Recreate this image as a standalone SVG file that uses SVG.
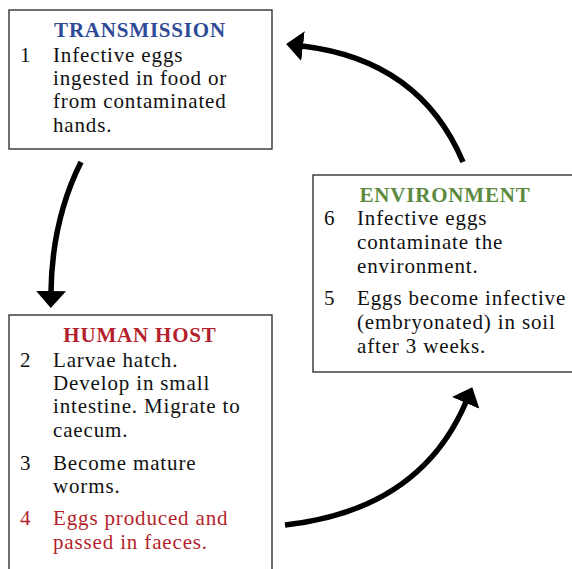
<svg xmlns="http://www.w3.org/2000/svg" width="572" height="569" viewBox="0 0 572 569">
<defs>
<style>
.box{fill:#fff;stroke:#222;stroke-width:1.3}
text{font-family:"Liberation Serif","Times New Roman",serif;font-size:21px;fill:#111;letter-spacing:0.85px}
.title{font-weight:bold;text-anchor:middle;letter-spacing:0.8px}
.blue{fill:#2F4A96}
.red{fill:#B51F2B}
.green{fill:#5C8A3E}
.conn{fill:none;stroke:#000;stroke-width:5.5;marker-end:url(#ah)}
</style>
<marker id="ah" markerUnits="userSpaceOnUse" viewBox="0 -15 17 30" markerWidth="17" markerHeight="30" refX="1" refY="0" orient="auto">
<path d="M0,-15 L17,0 L0,15 z" fill="#000"/>
</marker>
</defs>
<rect width="572" height="569" fill="#fff"/>
<g id="connectors">
<path class="conn" d="M463,162 Q420,60 302,46"/>
<path class="conn" d="M81,162 Q52,220 51,292"/>
<path class="conn" d="M285,525 Q420,510 466,402"/>
</g>
<g id="transmission">
<rect class="box" x="9" y="10" width="263" height="139"/>
<text class="title blue" x="140" y="37">TRANSMISSION</text>
<text x="20" y="62">1</text>
<text x="53" y="62">Infective eggs</text>
<text x="53" y="85">ingested in food or</text>
<text x="53" y="108">from contaminated</text>
<text x="53" y="132">hands.</text>
</g>
<g id="human-host">
<rect class="box" x="9" y="315" width="263" height="270"/>
<text class="title red" x="140" y="342">HUMAN HOST</text>
<text x="20" y="367">2</text>
<text x="53" y="367">Larvae hatch.</text>
<text x="53" y="390">Develop in small</text>
<text x="53" y="413">intestine. Migrate to</text>
<text x="53" y="437">caecum.</text>
<text x="20" y="470">3</text>
<text x="53" y="470">Become mature</text>
<text x="53" y="493">worms.</text>
<text class="red" x="20" y="525">4</text>
<text class="red" x="53" y="525">Eggs produced and</text>
<text class="red" x="53" y="549">passed in faeces.</text>
</g>
<g id="environment">
<rect class="box" x="313" y="175" width="270" height="197"/>
<text class="title green" x="445" y="202">ENVIRONMENT</text>
<text x="324" y="225">6</text>
<text x="357" y="225">Infective eggs</text>
<text x="357" y="249">contaminate the</text>
<text x="357" y="273">environment.</text>
<text x="324" y="305">5</text>
<text x="357" y="305">Eggs become infective</text>
<text x="357" y="329">(embryonated) in soil</text>
<text x="357" y="353">after 3 weeks.</text>
</g>
</svg>
